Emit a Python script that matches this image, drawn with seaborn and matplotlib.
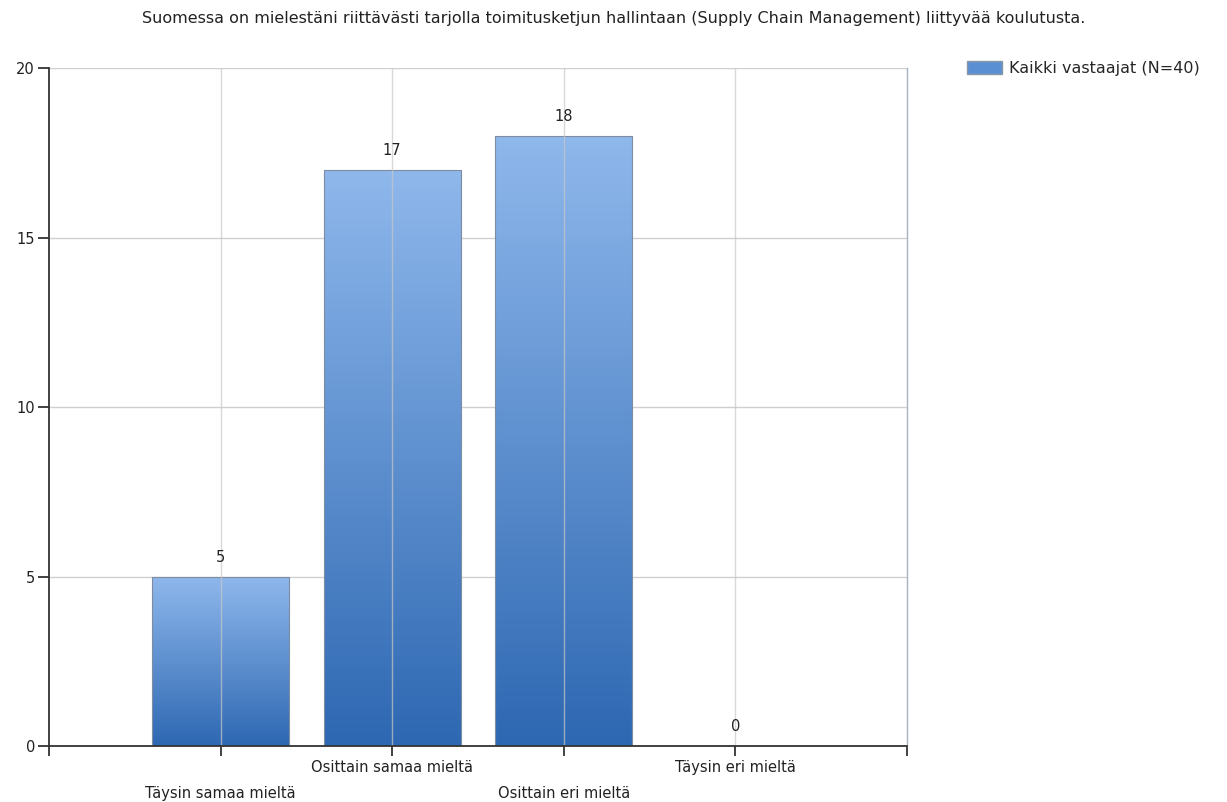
import numpy as np
import pandas as pd
import matplotlib
matplotlib.use("Agg")
import matplotlib.pyplot as plt
from matplotlib.colors import LinearSegmentedColormap
from matplotlib.patches import Patch
import seaborn as sns

# Survey answers and counts
categories = ["Täysin samaa mieltä", "Osittain samaa mieltä", "Osittain eri mieltä", "Täysin eri mieltä"]
counts = [5, 17, 18, 0]
series_name = "Kaikki vastaajat (N=40)"
title = "Suomessa on mielestäni riittävästi tarjolla toimitusketjun hallintaan (Supply Chain Management) liittyvää koulutusta."
y_ticks = [0, 5, 10, 15, 20]

sns.set_theme(style="white")
plt.rcParams["font.family"] = ["DejaVu Sans"]

df = pd.DataFrame({"vastaus": categories, "lkm": counts})

fig = plt.figure(figsize=(12.27, 8.02), dpi=100)
ax = fig.add_axes([0.0399, 0.0698, 0.6993, 0.8454])

sns.barplot(data=df, x="vastaus", y="lkm", order=categories, color="#5b8fd3",
            width=0.8, edgecolor="#7d8ca0", linewidth=0.8, ax=ax, zorder=2)

ax.set_xlim(-1, len(categories))
ax.set_ylim(0, 20)
ax.set_yticks(y_ticks)
ax.set_yticklabels([str(t) for t in y_ticks], fontsize=10.5, color="#222222")

# Vertical gradient fill, clipped to each bar
grad_cmap = LinearSegmentedColormap.from_list("bar", ["#2e68b2", "#8fb8ec"])
grad = np.linspace(0, 1, 256).reshape(-1, 1)
for patch in ax.patches:
    x0, y0 = patch.get_x(), patch.get_y()
    w, h = patch.get_width(), patch.get_height()
    if h <= 0:
        continue
    patch.set_facecolor("none")
    im = ax.imshow(grad, cmap=grad_cmap, origin="lower", aspect="auto",
                   extent=[x0, x0 + w, y0, y0 + h], zorder=1.9, interpolation="bilinear")
    im.set_clip_path(patch)

# Value labels
for i, v in enumerate(counts):
    ax.annotate(str(v), (i, v), xytext=(0, 14), textcoords="offset points",
                ha="center", va="center", fontsize=10.5, color="#222222")

# Grid
for t in y_ticks[1:]:
    ax.axhline(t, color="#d0d0d0", lw=1.0, zorder=1)
for i in range(len(categories)):
    ax.axvline(i, color="#c8c8c8", lw=1.0, zorder=2.5, alpha=0.7)
ax.grid(False)

# Spines
for side in ("left", "bottom"):
    ax.spines[side].set_color("#333333")
    ax.spines[side].set_linewidth(1.3)
ax.spines["right"].set_color("#a8b4c4")
ax.spines["right"].set_linewidth(1.0)
ax.spines["top"].set_visible(False)

# X ticks at category centres plus both ends, labels staggered
xt = list(range(-1, len(categories) + 1))
ax.set_xticks(xt)
ax.set_xticklabels([""] * len(xt))
ax.tick_params(axis="both", which="both", direction="out", length=7, width=1.3,
               color="#333333", bottom=True, left=True)
ax.tick_params(axis="y", length=8, pad=2)
ax.set_xlabel("")
ax.set_ylabel("")
for i, lab in enumerate(categories):
    off = -34.5 if i % 2 == 0 else -15.5
    ax.annotate(lab, (i, 0), xycoords="data", xytext=(0, off), textcoords="offset points",
                ha="center", va="center", fontsize=10.5, color="#222222", annotation_clip=False)

fig.text(0.5, 0.977, title, ha="center", va="center", fontsize=11.5, color="#222222")

leg = fig.legend(handles=[Patch(facecolor="#5b8fd3", edgecolor="#8a98a8", label=series_name)],
                 loc="upper left", bbox_to_anchor=(0.788, 0.924), frameon=False,
                 fontsize=11.5, handlelength=2.2, handleheight=0.9, handletextpad=0.45,
                 borderaxespad=0, borderpad=0)

fig.savefig("out.png", dpi=100, facecolor="white")
